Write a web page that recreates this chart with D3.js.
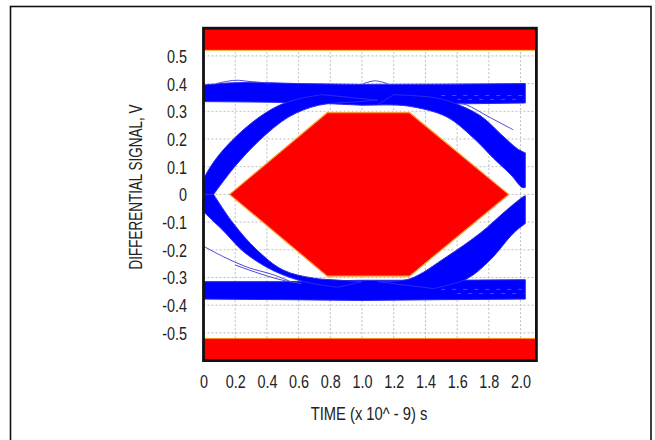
<!DOCTYPE html>
<html>
<head>
<meta charset="utf-8">
<script src="https://cdn.jsdelivr.net/npm/d3@7"></script>
<style>
  html, body { margin: 0; padding: 0; background: #fff; }
  svg text { font-family: "Liberation Sans", Arial, sans-serif; fill: #222; }
</style>
</head>
<body>
<svg id="chart" width="655" height="440"></svg>
<script>
// ---------- data ----------
const xTicks = [0, 0.2, 0.4, 0.6, 0.8, 1.0, 1.2, 1.4, 1.6, 1.8, 2.0];
const xTickLabels = ["0", "0.2", "0.4", "0.6", "0.8", "1.0", "1.2", "1.4", "1.6", "1.8", "2.0"];
const yTicks = [0.5, 0.4, 0.3, 0.2, 0.1, 0, -0.1, -0.2, -0.3, -0.4, -0.5];
const yTickLabels = ["0.5", "0.4", "0.3", "0.2", "0.1", "0", "-0.1", "-0.2", "-0.3", "-0.4", "-0.5"];
const xTitle = "TIME (x 10^ - 9) s";
const yTitle = "DIFFERENTIAL SIGNAL, V";

// mask limits (V) and hexagon mask (t in ns, V)
const maskTop = [0.52, 0.6];
const maskBottom = [-0.6, -0.52];
const maskHexagon = [[0.165, 0], [0.78, 0.295], [1.30, 0.295], [1.925, 0], [1.30, -0.295], [0.78, -0.295]];

// eye-diagram trace envelopes: [t (ns), V]
const topRail = [[0, 0.395], [0.15, 0.402], [0.3, 0.405], [0.6, 0.40], [1.0, 0.397], [1.5, 0.398], [2.03, 0.40],
                 [2.03, 0.33], [1.5, 0.326], [1.0, 0.322], [0.7, 0.33], [0.4, 0.333], [0, 0.335]];
const bottomRail = [[0, -0.315], [0.5, -0.315], [1.0, -0.31], [1.5, -0.31], [2.03, -0.308],
                    [2.03, -0.378], [1.5, -0.38], [1.0, -0.383], [0.5, -0.38], [0, -0.378]];

const riseLeftOuter = [[0, 0.0], [0, 0.05], [0.05, 0.105], [0.142, 0.172], [0.303, 0.258], [0.461, 0.317], [0.6, 0.345], [0.75, 0.36]];
const riseLeftInner = [[0.064, 0.0], [0.197, 0.1], [0.355, 0.196], [0.539, 0.28], [0.726, 0.322], [0.962, 0.334], [1.1, 0.34]];
const fallLeftOuter = [[0, 0.0], [0, -0.057], [0.05, -0.09], [0.123, -0.13], [0.249, -0.205], [0.399, -0.263], [0.546, -0.3], [0.69, -0.322], [0.85, -0.335]];
const fallLeftInner = [[0.064, 0.0], [0.186, -0.103], [0.336, -0.2], [0.502, -0.273], [0.691, -0.302], [0.861, -0.31], [1.0, -0.315]];
const fallRightOuter = [[1.2, 0.36], [1.45, 0.35], [1.555, 0.335], [1.744, 0.285], [1.89, 0.21], [1.98, 0.165], [2.03, 0.15]];
const fallRightInner = [[1.1, 0.325], [1.30, 0.318], [1.534, 0.28], [1.70, 0.205], [1.83, 0.13], [1.94, 0.07], [2.01, 0.025], [2.03, 0.025]];
const riseRightOuter = [[1.45, -0.34], [1.66, -0.305], [1.808, -0.237], [1.955, -0.14], [2.03, -0.105]];
const riseRightInner = [[1.1, -0.315], [1.30, -0.305], [1.534, -0.225], [1.745, -0.14], [1.913, -0.056], [2.018, -0.008], [2.03, -0.005]];
const edgeBands = [[riseLeftOuter, riseLeftInner], [fallLeftOuter, fallLeftInner],
                   [fallRightOuter, fallRightInner], [riseRightOuter, riseRightInner]];

// stray single traces
const strayLowA = [[0, -0.187], [0.126, -0.225], [0.272, -0.262], [0.44, -0.29], [0.55, -0.315]];
const strayLowB = [[0.2, -0.255], [0.35, -0.285], [0.5, -0.31], [0.62, -0.322]];
const strayHigh = [[1.60, 0.33], [1.66, 0.323], [1.80, 0.28], [1.955, 0.233]];
const strayTop = [[0.08, 0.40], [0.2, 0.412], [0.3, 0.407], [0.42, 0.402]];
const strayTop2 = [[1.0, 0.398], [1.08, 0.41], [1.16, 0.40]];
const strays = [strayLowA, strayLowB, strayHigh, strayTop, strayTop2];

// sparse gaps visible inside the rails
const gapTopA = [[1.5, 0.357], [2.02, 0.357]];
const gapTopB = [[1.6, 0.343], [2.02, 0.343]];
const gapBotA = [[1.5, -0.343], [2.02, -0.343]];
const gapBotB = [[1.6, -0.358], [2.02, -0.358]];
const gaps = [gapTopA, gapTopB, gapBotA, gapBotB];

// ---------- layout ----------
const svg = d3.select("#chart");
const x = d3.scaleLinear().domain([0, 2.1]).range([203.5, 536.4]);
const y = d3.scaleLinear().domain([-0.6, 0.6]).range([360.6, 28.2]);
const NARROW = 0.8;

// outer frame
svg.append("rect").attr("x", 10.5).attr("y", 6.5).attr("width", 640.5).attr("height", 450)
  .attr("fill", "none").attr("stroke", "#111").attr("stroke-width", 1.6);

// grid
const g = svg.append("g");
g.selectAll(".vg").data(xTicks.filter(d => d > 0)).join("line")
  .attr("x1", d => x(d)).attr("x2", d => x(d)).attr("y1", y(0.6)).attr("y2", y(-0.6))
  .attr("stroke", "#bdbdbd").attr("stroke-width", 1).attr("stroke-dasharray", "2,2");
g.selectAll(".hg").data(yTicks).join("line")
  .attr("x1", x(0)).attr("x2", x(2.1)).attr("y1", d => y(d)).attr("y2", d => y(d))
  .attr("stroke", "#bdbdbd").attr("stroke-width", 1).attr("stroke-dasharray", "2,2");

// mask regions
[maskTop, maskBottom].forEach(m => {
  g.append("rect").attr("x", x(0)).attr("width", x(2.1) - x(0))
    .attr("y", y(m[1])).attr("height", y(m[0]) - y(m[1])).attr("fill", "#ff0000");
});
g.append("line").attr("x1", x(0)).attr("x2", x(2.1)).attr("y1", y(maskTop[0])).attr("y2", y(maskTop[0]))
  .attr("stroke", "#ffc040").attr("stroke-width", 1);
g.append("line").attr("x1", x(0)).attr("x2", x(2.1)).attr("y1", y(maskBottom[1])).attr("y2", y(maskBottom[1]))
  .attr("stroke", "#ff9020").attr("stroke-width", 1);

const poly = d3.line().x(d => x(d[0])).y(d => y(d[1])).curve(d3.curveLinearClosed);
g.append("path").attr("d", poly(maskHexagon)).attr("fill", "#ff0000")
  .attr("stroke", "#ff9a30").attr("stroke-width", 1.2);

// eye traces
const BLUE = "#0000ff";
g.selectAll(".rail").data([topRail, bottomRail]).join("path")
  .attr("d", d => poly(d)).attr("fill", BLUE)
  .attr("stroke", "#2a2aee").attr("stroke-width", 1).attr("stroke-linejoin", "round");
const smooth = d3.line().x(d => x(d[0])).y(d => y(d[1])).curve(d3.curveCatmullRom.alpha(0.5));
function bandPath(outer, inner) {
  const a = smooth(outer);
  const b = smooth(inner.slice().reverse()).replace(/^M/, "L");
  return a + b + "Z";
}
g.selectAll(".band").data(edgeBands).join("path")
  .attr("d", d => bandPath(d[0], d[1])).attr("fill", BLUE)
  .attr("stroke", "#2a2aee").attr("stroke-width", 1).attr("stroke-linejoin", "round");
g.selectAll(".gap").data(gaps).join("path")
  .attr("d", d => smooth(d)).attr("fill", "none").attr("stroke", "#ffffff")
  .attr("stroke-opacity", 0.35).attr("stroke-width", 0.8).attr("stroke-dasharray", "4,7");
g.selectAll(".stray").data(strays).join("path")
  .attr("d", d => smooth(d)).attr("fill", "none").attr("stroke", "#4a4ad8").attr("stroke-width", 1);

// plot border
svg.append("rect").attr("x", x(0)).attr("y", y(0.6)).attr("width", x(2.1) - x(0)).attr("height", y(-0.6) - y(0.6))
  .attr("fill", "none").attr("stroke", "#111").attr("stroke-width", 2.8);

// axes
const yAxis = d3.axisLeft(y).tickValues(yTicks).tickSize(0).tickPadding(0)
  .tickFormat((d, i) => yTickLabels[i]);
const ya = svg.append("g").attr("transform", "translate(187,0)").call(yAxis);
ya.select(".domain").remove();
ya.selectAll("text").attr("font-size", 18).attr("font-family", null).attr("dy", "0.36em")
  .attr("fill", "#222").attr("transform", `scale(${NARROW},1)`);

const xAxis = d3.axisBottom(x).tickValues(xTicks).tickSize(0).tickPadding(0)
  .tickFormat((d, i) => xTickLabels[i]);
const xa = svg.append("g").attr("transform", "translate(0,388)").call(xAxis);
xa.select(".domain").remove();
xa.selectAll("text").attr("font-size", 18).attr("font-family", null).attr("dy", 0)
  .attr("fill", "#222").attr("transform", `scale(${NARROW},1)`);

svg.append("g").attr("transform", `translate(369,420) scale(0.82,1)`)
  .append("text").attr("text-anchor", "middle").attr("font-size", 18).text(xTitle);
svg.append("g").attr("transform", `translate(142,187) rotate(-90) scale(0.77,1)`)
  .append("text").attr("text-anchor", "middle").attr("font-size", 17.5).text(yTitle);
</script>
</body>
</html>
